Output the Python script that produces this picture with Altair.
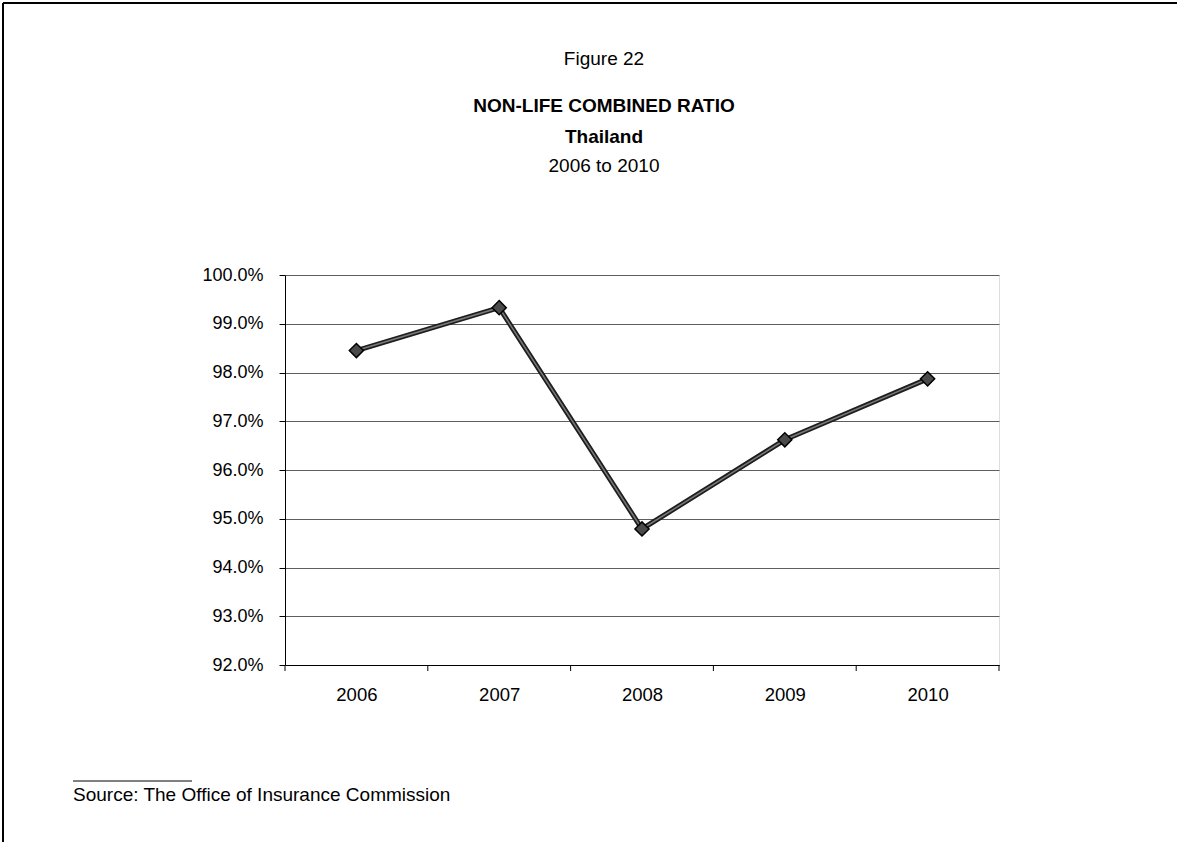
import altair as alt
import pandas as pd

years = [2006, 2007, 2008, 2009, 2010]
ratio = [0.9845, 0.9933, 0.9479, 0.9662, 0.9787]
y_ticks = [0.92, 0.93, 0.94, 0.95, 0.96, 0.97, 0.98, 0.99, 1.00]
title_lines = ["Figure 22", "NON-LIFE COMBINED RATIO", "Thailand", "2006 to 2010"]
source_note = "Source: The Office of Insurance Commission"

FONT = "Liberation Sans, Arial, sans-serif"
W, H = 714, 390
PAD_L, PAD_T = 285, 275
PAD_R, PAD_B = 1177 - PAD_L - W, 846 - PAD_T - H - 4

df = pd.DataFrame({"year": years, "ratio": ratio})
bounds = pd.DataFrame({"b": [years[0] - 0.5] + [y + 0.5 for y in years]})

xscale = alt.Scale(domain=[years[0] - 0.5, years[-1] + 0.5], nice=False, zero=False)
yscale = alt.Scale(domain=[y_ticks[0], y_ticks[-1]], nice=False, zero=False)

base = alt.Chart(df)

line = base.mark_line(color="#1e1e1e", strokeWidth=5).encode(
    x=alt.X("year:Q", scale=xscale,
            axis=alt.Axis(values=years, format="d", title=None, ticks=False,
                          labelFontSize=18.5, labelFont=FONT, labelColor="black",
                          labelPadding=20, domainColor="black", grid=False)),
    y=alt.Y("ratio:Q", scale=yscale,
            axis=alt.Axis(values=y_ticks, format=".1%", title=None,
                          labelFontSize=18, labelFont=FONT, labelColor="black",
                          tickSize=6, tickColor="black", labelPadding=16,
                          domainColor="black", grid=True, gridColor="#5e5e5e",
                          gridWidth=1)),
)
inner = base.mark_line(color="#7a7a7a", strokeWidth=1.5).encode(
    x=alt.X("year:Q", scale=xscale), y=alt.Y("ratio:Q", scale=yscale))
pts = base.mark_point(shape="diamond", size=200, filled=True, color="#4a4a4a",
                      stroke="black", strokeWidth=1.5, opacity=1).encode(
    x=alt.X("year:Q", scale=xscale), y=alt.Y("ratio:Q", scale=yscale))

xticks = alt.Chart(bounds).mark_rule(color="black", strokeWidth=1).encode(
    x=alt.X("b:Q", scale=xscale), y=alt.value(H), y2=alt.value(H + 6))

def txt(s, x, y, bold=False, size=19, align="center"):
    return alt.Chart(pd.DataFrame({"t": [s]})).mark_text(
        font=FONT, fontSize=size, fontWeight="bold" if bold else "normal",
        align=align, baseline="middle", color="black").encode(
        text="t:N", x=alt.value(x), y=alt.value(y))

cx = 604 - PAD_L
titles = (txt(title_lines[0], cx, 59 - PAD_T)
          + txt(title_lines[1], cx, 106 - PAD_T, bold=True)
          + txt(title_lines[2], cx, 137 - PAD_T, bold=True)
          + txt(title_lines[3], cx, 166 - PAD_T))
src = txt(source_note, 73 - PAD_L, 795 - PAD_T, size=19, align="left")

frame_top = alt.Chart(pd.DataFrame({"t": [0]})).mark_rule(color="black", strokeWidth=2).encode(
    x=alt.value(3 - PAD_L), x2=alt.value(W + PAD_R), y=alt.value(3 - PAD_T), y2=alt.value(3 - PAD_T))
frame_left = alt.Chart(pd.DataFrame({"t": [0]})).mark_rule(color="black", strokeWidth=2).encode(
    x=alt.value(3 - PAD_L), x2=alt.value(3 - PAD_L), y=alt.value(3 - PAD_T), y2=alt.value(H + PAD_B))
under = alt.Chart(pd.DataFrame({"t": [0]})).mark_rule(color="black", strokeWidth=1).encode(
    x=alt.value(73 - PAD_L), x2=alt.value(192 - PAD_L), y=alt.value(781 - PAD_T), y2=alt.value(781 - PAD_T))

chart = alt.layer(line, inner, pts, xticks, titles, src, frame_top, frame_left, under).properties(
    width=W, height=H,
    autosize=alt.AutoSizeParams(type="none"),
    padding={"left": PAD_L, "top": PAD_T, "right": PAD_R, "bottom": PAD_B},
).configure_view(stroke=None).configure(background="white")

chart.save("out.html", embed_options={"renderer": "svg", "actions": False})
